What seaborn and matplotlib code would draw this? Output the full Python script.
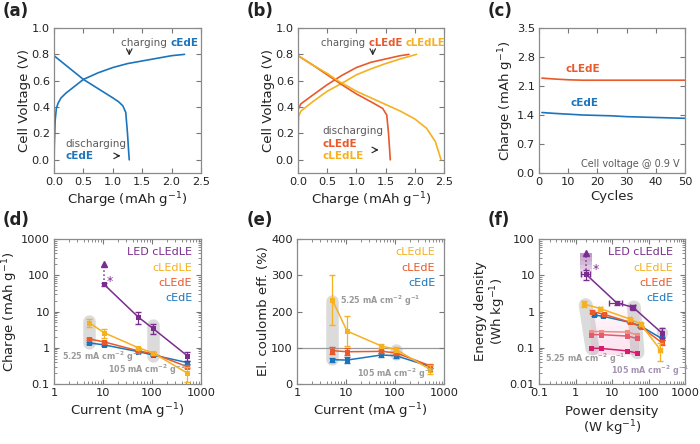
import numpy as np
import pandas as pd
import seaborn as sns
import matplotlib.pyplot as plt

sns.set_style('ticks')
plt.rcParams['font.family'] = ['DejaVu Sans']
plt.rcParams['mathtext.default'] = 'regular'

# colours used for the four cells
BLUE = '#1c75bc'
ORANGE = '#e8592b'
YELLOW = '#f5b120'
PURPLE = '#7b2d8e'
GREY = '#5a5a5a'

# (a) cEdE charge / discharge curves
a_chg_q = [0, 0.005, 0.02, 0.04, 0.07, 0.12, 0.2, 0.3, 0.5, 0.75, 1.0, 1.25, 1.5, 1.75, 2.0, 2.22]
a_chg_v = [-0.1, 0.1, 0.3, 0.39, 0.43, 0.47, 0.505, 0.54, 0.61, 0.66, 0.70, 0.73, 0.75, 0.77, 0.79, 0.80]
a_dis_q = [0, 0.25, 0.5, 0.75, 1.0, 1.1, 1.17, 1.22, 1.25, 1.27, 1.28]
a_dis_v = [0.79, 0.70, 0.61, 0.54, 0.47, 0.44, 0.41, 0.36, 0.2, 0.06, 0.0]

# (b) cLEdE and cLEdLE curves
b_le_chg_q = [0, 0.05, 0.25, 0.5, 0.75, 1.0, 1.25, 1.5, 1.75, 1.9]
b_le_chg_v = [0.38, 0.425, 0.49, 0.57, 0.64, 0.70, 0.74, 0.765, 0.79, 0.80]
b_lel_chg_q = [0, 0.003, 0.01, 0.05, 0.25, 0.5, 0.75, 1.0, 1.25, 1.5, 1.75, 2.03]
b_lel_chg_v = [0.0, 0.2, 0.33, 0.37, 0.44, 0.52, 0.58, 0.645, 0.69, 0.73, 0.765, 0.80]
b_le_dis_q = [0, 0.25, 0.5, 0.75, 1.0, 1.25, 1.45, 1.52, 1.55, 1.57, 1.58]
b_le_dis_v = [0.79, 0.72, 0.645, 0.57, 0.50, 0.44, 0.39, 0.34, 0.2, 0.07, 0.0]
b_lel_dis_q = [0, 0.25, 0.5, 0.7, 1.0, 1.25, 1.5, 1.75, 2.0, 2.2, 2.35, 2.45]
b_lel_dis_v = [0.79, 0.72, 0.655, 0.595, 0.52, 0.47, 0.42, 0.37, 0.31, 0.24, 0.14, 0.0]

# (c) cycling
cycles = [1, 5, 10, 15, 20, 25, 30, 35, 40, 45, 50]
c_cLEdE = [2.29, 2.27, 2.25, 2.24, 2.24, 2.24, 2.24, 2.24, 2.24, 2.24, 2.24]
c_cEdE = [1.46, 1.44, 1.42, 1.40, 1.39, 1.38, 1.36, 1.35, 1.34, 1.33, 1.32]

# (d) rate capability
current = [5.25, 10.5, 52.5, 105, 525]
d_cEdE = [1.36, 1.2, 0.78, 0.63, 0.39]
d_cEdE_err = [0.1, 0.08, 0.05, 0.04, 0.04]
d_cLEdE = [1.75, 1.45, 0.82, 0.69, 0.30]
d_cLEdE_err = [0.15, 0.12, 0.05, 0.05, 0.03]
d_cLEdLE = [4.9, 2.6, 1.0, 0.72, 0.2]
d_cLEdLE_err = [1.2, 0.7, 0.08, 0.06, 0.09]
led_current = [10.5, 52.5, 105, 525]
d_LED = [56, 7.0, 3.4, 0.6]
d_LED_err = [6, 2.5, 1.0, 0.18]
d_LED_top = 200

# (e) coulombic efficiency
e_cLEdLE = [232, 146, 105, 95, 40]
e_cLEdLE_err = [70, 42, 6, 6, 12]
e_cLEdE = [92, 89, 90, 86, 50]
e_cLEdE_err = [10, 10, 5, 5, 5]
e_cEdE = [67, 66, 80, 78, 48]
e_cEdE_err = [5, 8, 5, 5, 4]

# (f) Ragone
f_LED_p = [1.95, 13.3, 38, 228]
f_LED_e = [10.6, 1.75, 1.3, 0.26]
f_LED_top = 40
f_cLEdLE_p = [1.75, 4.8, 31, 61, 210]
f_cLEdLE_e = [1.6, 1.2, 0.62, 0.45, 0.088]
f_cLEdE_p = [2.9, 6.0, 32, 61, 228]
f_cLEdE_e = [1.0, 0.84, 0.5, 0.38, 0.14]
f_cEdE_p = [3.2, 5.6, 31, 60, 230]
f_cEdE_e = [0.8, 0.74, 0.5, 0.4, 0.18]
f_low_p = [2.7, 5.0, 26, 49]
f_low1 = [0.28, 0.28, 0.27, 0.23]
f_low2 = [0.23, 0.23, 0.21, 0.18]
f_low3 = [0.097, 0.096, 0.082, 0.071]

fig = plt.figure(figsize=(7, 4.44), dpi=100)

LAB = 9.5     # axis label size
NOTE = 5.8    # size of the grey current-density notes


def make_ax(l, t, r, b):
    ax = fig.add_axes([l / 700, 1 - b / 444, (r - l) / 700, (b - t) / 444])
    for s in ax.spines.values():
        s.set_color('#8a8a8a')
        s.set_linewidth(0.9)
    ax.tick_params(which='both', direction='in', top=True, right=True,
                   color='#777777', labelsize=8.2, labelcolor='#222222', pad=3)
    ax.tick_params(which='major', length=3.5)
    ax.tick_params(which='minor', length=2)
    return ax


def label(ax, x, y):
    ax.set_xlabel(x, fontsize=LAB, color='#222222', labelpad=2)
    ax.set_ylabel(y, fontsize=LAB, color='#222222', labelpad=0.5)


def curve(ax, x, y, c, lw=1.2):
    sns.lineplot(x=x, y=y, ax=ax, color=c, lw=lw, sort=False, estimator=None)


def pts(ax, x, y, err, c, xerr=None):
    sns.lineplot(x=x, y=y, ax=ax, color=c, lw=1.1, marker='s', markersize=3.6,
                 markeredgewidth=0, sort=False, estimator=None)
    if err is not None or xerr is not None:
        ax.errorbar(x, y, yerr=err, xerr=xerr, fmt='none', ecolor=c, elinewidth=0.9, capsize=2)


def band(ax, x, y, lw=9):
    ax.plot(x, y, color='#9a9a9a', alpha=0.35, lw=lw, solid_capstyle='round', zorder=0)


def chain(ax, x, y, parts, size=7.5):
    # write several coloured words one after the other on a line
    prev = None
    for txt, c, w in parts:
        if prev is None:
            prev = ax.text(x, y, txt, ha='left', va='center', fontsize=size, color=c, fontweight=w)
        else:
            prev = ax.annotate(txt, xy=(1, 0.5), xycoords=prev, ha='left', va='center',
                               fontsize=size, color=c, fontweight=w)
    return prev


# ---------------- (a)
ax = make_ax(54, 28, 201, 173)
curve(ax, a_chg_q, a_chg_v, BLUE)
curve(ax, a_dis_q, a_dis_v, BLUE)
ax.set_xlim(0, 2.5)
ax.set_ylim(-0.1, 1.0)
ax.set_xticks(np.arange(0, 2.51, 0.5))
ax.set_yticks(np.arange(0, 1.01, 0.2))
ax.xaxis.set_major_formatter(plt.FormatStrFormatter('%.1f'))
ax.yaxis.set_major_formatter(plt.FormatStrFormatter('%.1f'))
label(ax, 'Charge (mAh g$^{-1}$)', 'Cell Voltage (V)')
chain(ax, 1.14, 0.89, [('charging ', GREY, 'normal'), ('cEdE', BLUE, 'bold')])
ax.annotate('', xy=(1.28, 0.77), xytext=(1.28, 0.855),
            arrowprops=dict(arrowstyle='->', color='#222222', lw=0.8))
ax.text(0.19, 0.12, 'discharging', ha='left', va='center', fontsize=7.5, color=GREY)
ax.text(0.19, 0.03, 'cEdE', ha='left', va='center', fontsize=7.5, color=BLUE, fontweight='bold')
ax.annotate('', xy=(1.18, 0.03), xytext=(1.02, 0.03),
            arrowprops=dict(arrowstyle='->', color='#222222', lw=0.8))

# ---------------- (b)
ax = make_ax(298, 28, 444, 173)
curve(ax, b_le_chg_q, b_le_chg_v, ORANGE)
curve(ax, b_lel_chg_q, b_lel_chg_v, YELLOW)
curve(ax, b_le_dis_q, b_le_dis_v, ORANGE)
curve(ax, b_lel_dis_q, b_lel_dis_v, YELLOW)
ax.set_xlim(0, 2.5)
ax.set_ylim(-0.1, 1.0)
ax.set_xticks(np.arange(0, 2.51, 0.5))
ax.set_yticks(np.arange(0, 1.01, 0.2))
ax.xaxis.set_major_formatter(plt.FormatStrFormatter('%.1f'))
ax.yaxis.set_major_formatter(plt.FormatStrFormatter('%.1f'))
label(ax, 'Charge (mAh g$^{-1}$)', 'Cell Voltage (V)')
chain(ax, 0.4, 0.89, [('charging ', GREY, 'normal'), ('cLEdE ', ORANGE, 'bold'),
                      ('cLEdLE', YELLOW, 'bold')], size=7.3)
ax.annotate('', xy=(1.28, 0.77), xytext=(1.28, 0.855),
            arrowprops=dict(arrowstyle='->', color='#222222', lw=0.8))
ax.text(0.42, 0.215, 'discharging', ha='left', va='center', fontsize=7.5, color=GREY)
ax.text(0.42, 0.12, 'cLEdE', ha='left', va='center', fontsize=7.5, color=ORANGE, fontweight='bold')
ax.text(0.42, 0.03, 'cLEdLE', ha='left', va='center', fontsize=7.5, color=YELLOW, fontweight='bold')
ax.annotate('', xy=(1.43, 0.075), xytext=(1.27, 0.075),
            arrowprops=dict(arrowstyle='->', color='#222222', lw=0.8))

# ---------------- (c)
ax = make_ax(539, 28, 685, 173)
curve(ax, cycles, c_cLEdE, ORANGE)
curve(ax, cycles, c_cEdE, BLUE)
ax.set_xlim(0, 50)
ax.set_ylim(0, 3.5)
ax.set_xticks(np.arange(0, 51, 10))
ax.set_yticks(np.arange(0, 3.51, 0.7))
ax.yaxis.set_major_formatter(plt.FormatStrFormatter('%.1f'))
label(ax, 'Cycles', 'Charge (mAh g$^{-1}$)')
ax.text(15, 2.5, 'cLEdE', ha='center', va='center', fontsize=7.5, color=ORANGE, fontweight='bold')
ax.text(15.5, 1.68, 'cEdE', ha='center', va='center', fontsize=7.5, color=BLUE, fontweight='bold')
ax.text(48, 0.22, 'Cell voltage @ 0.9 V', ha='right', va='center', fontsize=7, color=GREY)


def legend4(ax, names, colors, x=0.94):
    ys = [0.91, 0.80, 0.695, 0.59]
    for n, c, y in zip(names, colors, ys):
        ax.text(x, y, n, transform=ax.transAxes, ha='right', va='center', fontsize=8, color=c)


# ---------------- (d)
ax = make_ax(54, 239, 201, 384)
ax.set_xscale('log')
ax.set_yscale('log')
band(ax, [5.25, 5.25], [1.35, 5.3])
band(ax, [105, 105], [0.6, 4.2])
pts(ax, current, d_cEdE, d_cEdE_err, BLUE)
pts(ax, current, d_cLEdE, d_cLEdE_err, ORANGE)
pts(ax, current, d_cLEdLE, d_cLEdLE_err, YELLOW)
pts(ax, led_current, d_LED, d_LED_err, PURPLE)
ax.plot([led_current[0], led_current[0]], [d_LED[0], d_LED_top], ls=':', color=PURPLE, lw=1.1)
ax.plot([led_current[0]], [d_LED_top], marker='^', color=PURPLE, ms=4)
ax.text(13.5, 68, '*', fontsize=9, color=PURPLE, ha='center', va='center')
ax.set_xlim(1, 1000)
ax.set_ylim(0.1, 1000)
ax.set_xticks([1, 10, 100, 1000])
ax.set_xticklabels(['1', '10', '100', '1000'])
ax.set_yticks([0.1, 1, 10, 100, 1000])
ax.set_yticklabels(['0.1', '1', '10', '100', '1000'])
label(ax, 'Current (mA g$^{-1}$)', 'Charge (mAh g$^{-1}$)')
ax.text(1.45, 0.55, '5.25 mA cm$^{-2}$ g$^{-1}$', fontsize=NOTE, color='#9a9a9a', fontweight='bold', va='center')
ax.text(12.5, 0.24, '105 mA cm$^{-2}$ g$^{-1}$', fontsize=NOTE, color='#9a9a9a', fontweight='bold', va='center')
legend4(ax, ['LED cLEdLE', 'cLEdLE', 'cLEdE', 'cEdE'], [PURPLE, YELLOW, ORANGE, BLUE])

# ---------------- (e)
ax = make_ax(297, 239, 444, 384)
ax.set_xscale('log')
ax.axhline(100, color='#9a9a9a', lw=0.9, zorder=0)
band(ax, [5.25, 5.25], [68, 228])
band(ax, [105, 105], [82, 93])
pts(ax, current, e_cEdE, e_cEdE_err, BLUE)
pts(ax, current, e_cLEdE, e_cLEdE_err, ORANGE)
pts(ax, current, e_cLEdLE, e_cLEdLE_err, YELLOW)
ax.set_xlim(1, 1000)
ax.set_ylim(0, 400)
ax.set_xticks([1, 10, 100, 1000])
ax.set_xticklabels(['1', '10', '100', '1000'])
ax.set_yticks([0, 100, 200, 300, 400])
label(ax, 'Current (mA g$^{-1}$)', 'El. coulomb eff. (%)')
ax.text(7.6, 229, '5.25 mA cm$^{-2}$ g$^{-1}$', fontsize=NOTE, color='#9a9a9a', fontweight='bold', va='center')
ax.text(16.5, 28, '105 mA cm$^{-2}$ g$^{-1}$', fontsize=NOTE, color='#9a9a9a', fontweight='bold', va='center')
ax.text(0.94, 0.91, 'cLEdLE', transform=ax.transAxes, ha='right', va='center', fontsize=8, color=YELLOW)
ax.text(0.94, 0.80, 'cLEdE', transform=ax.transAxes, ha='right', va='center', fontsize=8, color=ORANGE)
ax.text(0.94, 0.695, 'cEdE', transform=ax.transAxes, ha='right', va='center', fontsize=8, color=BLUE)

# ---------------- (f)
ax = make_ax(539, 239, 685, 384)
ax.set_xscale('log')
ax.set_yscale('log')
# pink shaded area (fades upward)
edges = np.logspace(np.log10(0.065), np.log10(1.8), 12)
for i in range(len(edges) - 1):
    ax.fill_between([2.6, 55], edges[i], edges[i + 1], color='#f06bb0',
                    alpha=0.2 * (1 - i / 11), lw=0, zorder=0)
# purple shaded area (fades downward)
edges = np.logspace(np.log10(7), np.log10(40), 8)
for i in range(len(edges) - 1):
    ax.fill_between([1.35, 2.8], edges[i], edges[i + 1], color=PURPLE,
                    alpha=0.05 + 0.07 * i, lw=0, zorder=0)
band(ax, [1.9, 2.9], [1.5, 0.095], lw=10)
band(ax, [40, 50], [1.3, 0.075], lw=10)
band(ax, [228, 228], [0.25, 0.27], lw=8)
pts(ax, f_low_p, f_low1, None, '#f08c82')
pts(ax, f_low_p, f_low2, None, '#e65a6e')
pts(ax, f_low_p, f_low3, None, '#d81c6c')
pts(ax, f_cEdE_p, f_cEdE_e, [0.05, 0.04, 0.03, 0.03, 0.02], BLUE)
pts(ax, f_cLEdE_p, f_cLEdE_e, [0.08, 0.06, 0.03, 0.03, 0.02], ORANGE)
pts(ax, f_cLEdLE_p, f_cLEdLE_e, [0.3, 0.1, 0.05, 0.04, 0.045], YELLOW,
    xerr=[0.2, 0.4, 3, 5, 30])
pts(ax, f_LED_p, f_LED_e, [3, 0.2, 0.2, 0.08], PURPLE, xerr=[0.5, 5, 6, 10])
ax.plot([f_LED_p[0], f_LED_p[0]], [f_LED_e[0], f_LED_top], ls=':', color=PURPLE, lw=1.1)
ax.plot([f_LED_p[0]], [f_LED_top], marker='^', color=PURPLE, ms=4)
ax.text(3.7, 14, '*', fontsize=9, color=PURPLE, ha='center', va='center')
ax.set_xlim(0.1, 1000)
ax.set_ylim(0.01, 100)
ax.set_xticks([0.1, 1, 10, 100, 1000])
ax.set_xticklabels(['0.1', '1', '10', '100', '1000'])
ax.set_yticks([0.01, 0.1, 1, 10, 100])
ax.set_yticklabels(['0.01', '0.1', '1', '10', '100'])
ax.set_xlabel('Power density\n(W kg$^{-1}$)', fontsize=LAB, color='#222222', labelpad=5, linespacing=1.05)
ax.set_ylabel('Energy density\n(Wh kg$^{-1}$)', fontsize=LAB, color='#222222', labelpad=1, linespacing=1.1)
ax.text(0.15, 0.051, '5.25 mA cm$^{-2}$ g$^{-1}$', fontsize=NOTE, color='#9a9a9a', fontweight='bold', va='center')
ax.text(9.5, 0.023, '105 mA cm$^{-2}$ g$^{-1}$', fontsize=NOTE, color='#a592b4', fontweight='bold', va='center')
legend4(ax, ['LED cLEdLE', 'cLEdLE', 'cLEdE', 'cEdE'], [PURPLE, YELLOW, ORANGE, BLUE], x=0.92)

# panel letters
for x, y, t in [(0.004, 0.995, '(a)'), (0.352, 0.995, '(b)'), (0.696, 0.995, '(c)'),
                (0.004, 0.525, '(d)'), (0.352, 0.525, '(e)'), (0.696, 0.525, '(f)')]:
    fig.text(x, y, t, fontsize=12, fontweight='bold', va='top', ha='left', color='#222222')

fig.savefig('out.png', dpi=100)
